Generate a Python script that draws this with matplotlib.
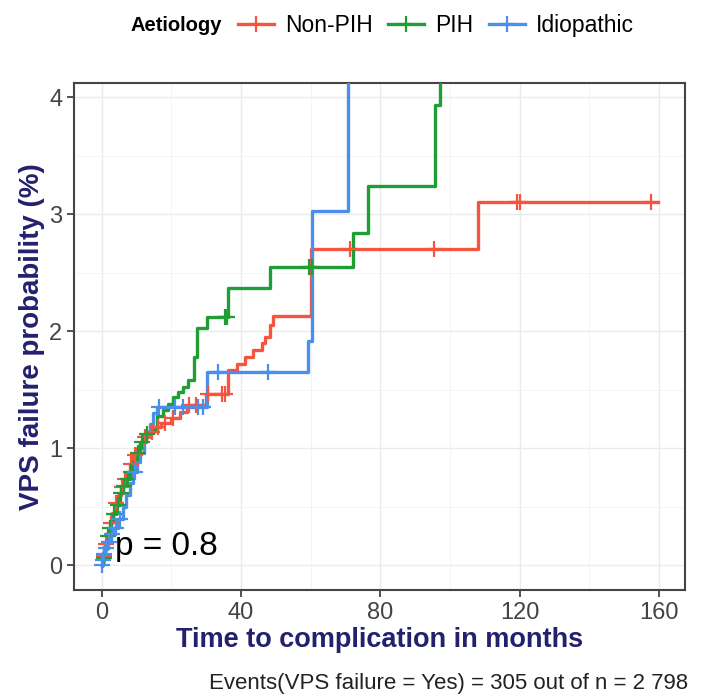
import numpy as np
import matplotlib
matplotlib.use("Agg")
import matplotlib.pyplot as plt
from matplotlib.lines import Line2D

plt.rcParams['font.family'] = ['Liberation Sans', 'DejaVu Sans']

# Non-PIH: event times (months) and cumulative failure probability (%)
nonpih_t = [0, 0.3, 0.8, 1.5, 2.2, 3.0, 3.8, 4.6, 5.4, 6.2, 7.0, 8.0, 9.0, 10.0, 11.0, 12.0,
            13.5, 15.0, 17.0, 20.0, 22.5, 24.5, 29.8, 36.3, 38.7, 41.1, 43.4, 45.9, 46.8,
            48.3, 49.1, 60.1, 107.9, 159.8]
nonpih_p = [0, 0.08, 0.18, 0.28, 0.36, 0.45, 0.53, 0.60, 0.67, 0.74, 0.80, 0.87, 0.94, 1.00,
            1.05, 1.10, 1.14, 1.18, 1.22, 1.26, 1.31, 1.37, 1.46, 1.67, 1.72, 1.78, 1.84,
            1.90, 1.95, 2.05, 2.13, 2.70, 3.10, 3.10]
nonpih_cens = [0.5, 1.2, 2.6, 4.2, 5.8, 6.6, 8.5, 9.5, 12.5, 14.5, 16, 18, 20.5, 25, 27, 30.5,
               34.5, 35.3, 71.3, 95.4, 119.2, 120.0, 157.7]

# PIH
pih_t = [0, 0.3, 0.8, 1.4, 2.0, 2.6, 3.2, 4.0, 5.2, 6.0, 7.0, 8.0, 9.0, 10.0, 10.9, 12.0,
         13.8, 15.8, 17.5, 19.0, 20.4, 21.9, 23.3, 24.7, 26.5, 27.2, 30.1, 36.2, 48.3,
         72.0, 76.5, 95.7, 97.1, 100.0]
pih_p = [0, 0.06, 0.14, 0.25, 0.32, 0.38, 0.44, 0.52, 0.62, 0.68, 0.74, 0.80, 0.88, 0.96,
         1.05, 1.12, 1.16, 1.28, 1.33, 1.38, 1.44, 1.48, 1.52, 1.58, 1.78, 2.03, 2.12,
         2.37, 2.55, 2.84, 3.24, 3.93, 4.60, 4.60]
pih_cens = [0.6, 1.7, 2.3, 3.5, 4.5, 5.6, 6.5, 7.5, 8.5, 10.5, 11.5, 13, 35.5, 36.0, 59.6, 60.4]

# Idiopathic
idio_t = [0, 0.2, 0.5, 1.0, 1.5, 2.5, 3.2, 4.5, 6.0, 7.0, 8.0, 9.0, 10.0, 11.0, 12.0, 12.8,
          13.8, 14.7, 15.7, 30.1, 59.2, 60.4, 70.8, 75.0]
idio_p = [0, 0.05, 0.10, 0.15, 0.20, 0.27, 0.32, 0.40, 0.50, 0.60, 0.70, 0.80, 0.88, 0.96,
          1.05, 1.12, 1.21, 1.30, 1.35, 1.65, 1.92, 3.03, 4.60, 4.60]
idio_cens = [0.1, 0.4, 0.7, 1.2, 2.0, 2.8, 4.0, 5.2, 9.5, 16.5, 21.0, 23.3, 27.6, 29.0,
             33.4, 47.8]

groups = ['Non-PIH', 'PIH', 'Idiopathic']
colors = ['#F5543E', '#1E9E35', '#4A8FEA']
series = [(nonpih_t, nonpih_p, nonpih_cens),
          (pih_t, pih_p, pih_cens),
          (idio_t, idio_p, idio_cens)]

fig = plt.figure(figsize=(7.02, 7.00), dpi=100)
ax = fig.add_axes([0.1054, 0.1571, 0.8704, 0.7243])

for (t, p, cens), col in zip(series, colors):
    t = np.array(t); p = np.array(p)
    ax.step(t, p, where='post', color=col, lw=2.4, zorder=3)
    # censor marks sit on the step curve
    idx = np.searchsorted(t, cens, side='right') - 1
    ax.plot(cens, p[idx], ls='none', marker='+', ms=11, mew=1.6, color=col, zorder=4)

ax.set_xlim(-8, 167.5)
ax.set_ylim(-0.21, 4.12)
ax.set_xticks([0, 40, 80, 120, 160])
ax.set_xticks([20, 60, 100, 140], minor=True)
ax.set_yticks([0, 1, 2, 3, 4])
ax.set_yticks([0.5, 1.5, 2.5, 3.5], minor=True)
ax.grid(which='major', color='#EBEBEB', lw=1.0)
ax.grid(which='minor', color='#F3F3F3', lw=0.6)
ax.set_axisbelow(True)
ax.tick_params(which='major', length=5, width=1.2, color='#333333', labelsize=17,
               labelcolor='#444444')
ax.tick_params(which='minor', length=0)
for s in ax.spines.values():
    s.set_color('#444444')
    s.set_linewidth(1.5)

ax.text(3.7, 0.085, 'p = 0.8', fontsize=24, color='black', va='baseline', ha='left', zorder=5)

fig.text(0.045, 0.519, 'VPS failure probability (%)', rotation=90, ha='center', va='center',
         fontsize=20, fontweight='bold', color='#24206E')
fig.text(0.541, 0.086, 'Time to complication in months', ha='center', va='center',
         fontsize=19.5, fontweight='bold', color='#24206E')
fig.text(0.980, 0.024, 'Events(VPS failure = Yes) = 305 out of n = 2 798', ha='right',
         va='center', fontsize=16, color='#222222')

# legend on top
fig.text(0.186, 0.964, 'Aetiology', ha='left', va='center', fontsize=14.5,
         fontweight='bold', color='black')
handles = [Line2D([0], [0], color=c, lw=2.4, marker='+', ms=12, mew=1.6) for c in colors]
fig.legend(handles, groups, loc='center left', bbox_to_anchor=(0.3386, 0.964), ncol=3,
           frameon=False, fontsize=16.5, handlelength=1.57, handletextpad=0.48,
           columnspacing=0.68, borderaxespad=0, borderpad=0)

plt.savefig('out.png', dpi=100)
